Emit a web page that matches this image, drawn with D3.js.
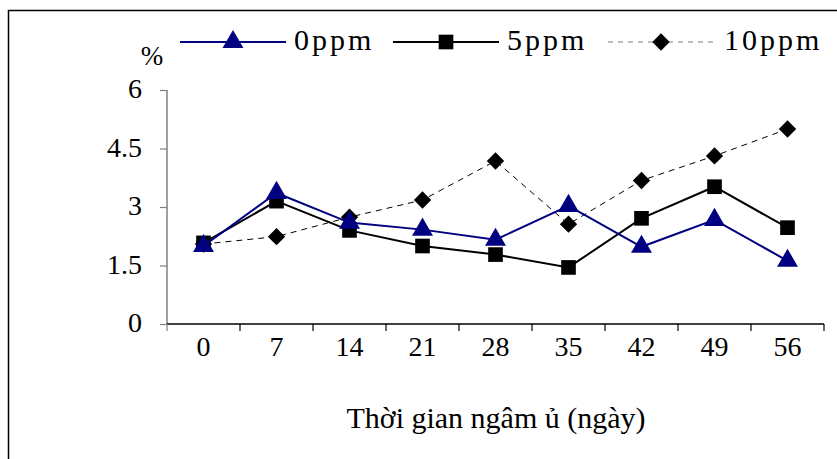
<!DOCTYPE html>
<html>
<head>
<meta charset="utf-8">
<script src="https://cdn.jsdelivr.net/npm/d3@7"></script>
<style>
  body { margin: 0; background: #fff; }
  text { font-family: "Liberation Serif", "Times New Roman", serif; }
</style>
</head>
<body>
<div id="chart"></div>
<script>
const days = ["0", "7", "14", "21", "28", "35", "42", "49", "56"];
const ppm0 = [2.0, 3.36, 2.6, 2.42, 2.16, 3.03, 1.98, 2.67, 1.62];
const ppm5 = [2.08, 3.15, 2.4, 2.0, 1.78, 1.45, 2.71, 3.52, 2.47];
const ppm10 = [2.05, 2.24, 2.74, 3.18, 4.18, 2.56, 3.68, 4.31, 5.0];
const yTicks = [0, 1.5, 3, 4.5, 6];

const width = 837, height = 459;
const margin = { left: 167, right: 13, top: 90, bottom: 135 };

const svg = d3.select('#chart').append('svg')
  .attr('width', width)
  .attr('height', height);

// outer frame, runs off the bottom/right edge like the source
svg.append('rect')
  .attr('x', 8.5).attr('y', 10.5)
  .attr('width', 840).attr('height', 460)
  .attr('fill', 'none').attr('stroke', '#000').attr('stroke-width', 1.5);

const x = d3.scaleBand().domain(days).range([margin.left, width - margin.right]);
const y = d3.scaleLinear().domain([0, 6]).range([height - margin.bottom, margin.top]);

// y axis
const yAxis = svg.append('g')
  .attr('transform', `translate(${margin.left},0)`)
  .call(d3.axisLeft(y).tickValues(yTicks).tickFormat(d => d).tickSize(7).tickPadding(18));
yAxis.select('.domain').attr('stroke', '#808080').attr('stroke-width', 1.5).attr('d', `M0,${y(6)}V${y(0)}`);
yAxis.selectAll('.tick line').attr('stroke', '#808080').attr('stroke-width', 1.2);
yAxis.selectAll('.tick text').attr('font-size', 28).attr('fill', '#000').attr('dy', '0.28em');

// x axis, ticks at band edges
const xAxis = svg.append('g')
  .attr('transform', `translate(0,${y(0)})`)
  .call(d3.axisBottom(x).tickSize(0));
xAxis.select('.domain').attr('stroke', '#000').attr('stroke-width', 1.5).attr('d', `M${margin.left},0H${width - margin.right}`);
xAxis.selectAll('.tick text').attr('font-size', 28).attr('fill', '#000').attr('y', 32).attr('dy', 0);
const edges = days.map(d => x(d)).concat([x(days[days.length - 1]) + x.bandwidth()]);
xAxis.selectAll('.edge').data(edges).enter().append('line')
  .attr('x1', d => d).attr('x2', d => d)
  .attr('y1', 0).attr('y2', 7)
  .attr('stroke', (d, i) => i === 0 ? '#808080' : '#000')
  .attr('stroke-width', 1.2);

const cx = d => x(d) + x.bandwidth() / 2;

const series = [
  { name: '0ppm', values: ppm0, color: '#000080', width: 2, dash: null, symbol: d3.symbolTriangle, size: 190, rot: 0 },
  { name: '5ppm', values: ppm5, color: '#000', width: 2, dash: null, symbol: d3.symbolSquare, size: 215, rot: 0 },
  { name: '10ppm', values: ppm10, color: '#000', width: 1, dash: '6,5', symbol: d3.symbolSquare, size: 150, rot: 45 }
];

const line = d3.line().x((d, i) => cx(days[i])).y(d => y(d));

series.slice().reverse().forEach(s => {
  svg.append('path')
    .datum(s.values)
    .attr('d', line)
    .attr('fill', 'none')
    .attr('stroke', s.color)
    .attr('stroke-width', s.width)
    .attr('stroke-dasharray', s.dash);
  svg.selectAll(null)
    .data(s.values)
    .enter().append('path')
    .attr('transform', (d, i) => `translate(${cx(days[i])},${y(d)}) rotate(${s.rot})`)
    .attr('d', d3.symbol(s.symbol, s.size))
    .attr('fill', s.color);
});

// y unit
svg.append('text')
  .attr('x', 152).attr('y', 65)
  .attr('text-anchor', 'middle')
  .attr('font-size', 27)
  .text('%');

// legend
const legendX = [180, 393, 608];
series.forEach((s, i) => {
  const g = svg.append('g').attr('transform', `translate(${legendX[i]},42)`);
  g.append('line')
    .attr('x1', 0).attr('x2', 106)
    .attr('stroke-width', s.width)
    .attr('stroke-dasharray', s.dash ? '5,5' : null)
    .attr('stroke', s.dash ? '#808080' : s.color);
  g.append('path')
    .attr('transform', `translate(53,0) rotate(${s.rot})`)
    .attr('d', d3.symbol(s.symbol, s.size))
    .attr('fill', s.color);
  g.append('text')
    .attr('x', s.dash ? 116 : 114).attr('y', 8)
    .attr('font-size', 30)
    .attr('letter-spacing', 3)
    .text(s.name);
});

// x axis title
svg.append('text')
  .attr('x', 496).attr('y', 428)
  .attr('text-anchor', 'middle')
  .attr('font-size', 30)
  .text('Thời gian ngâm ủ (ngày)');
</script>
</body>
</html>
